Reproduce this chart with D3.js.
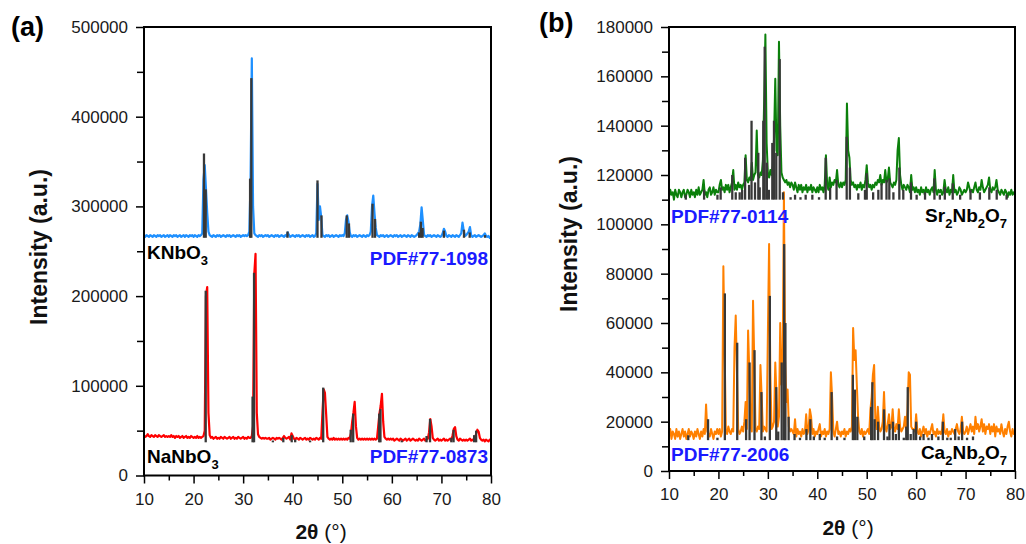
<!DOCTYPE html>
<html><head><meta charset="utf-8">
<script src="https://cdn.jsdelivr.net/npm/d3@7"></script>
<style>body{margin:0;background:#fff;}svg{display:block;}</style>
</head><body>
<svg id="c" width="1026" height="544"></svg>
<script>
// ---- measured scans: 2θ from scanStart in steps of scanStep, intensity in thousands of counts
const scanStart = 10, scanStep = 0.25;
const knbo3 = [
268,266,268,267,266,268,267,266,268,267,266,268,267,268,266,267,268,266,267,268,
266,268,267,266,268,267,268,266,267,268,266,267,268,266,268,267,266,268,267,268,
266,268,267,266,268,267,268,270,330,346,320,293,272,268,267,266,268,267,266,268,
267,268,266,267,268,267,266,268,267,268,266,267,268,267,266,268,267,268,266,267,
268,267,268,267,268,272,330,465,300,270,268,267,266,268,267,268,266,267,268,267,
268,266,267,268,267,266,268,267,268,266,267,268,267,266,268,267,271,268,266,267,
268,267,266,268,267,268,266,267,268,267,266,268,267,268,266,267,268,266,267,270,
325,285,300,288,268,267,266,268,267,268,266,267,268,266,267,268,267,266,268,267,
268,267,270,285,290,283,271,267,266,268,267,268,266,267,268,267,266,268,267,266,
268,267,268,272,300,312,292,276,268,267,266,268,267,268,266,267,268,266,267,268,
267,266,268,267,268,266,267,268,266,267,268,267,266,268,267,266,268,267,266,267,
268,270,272,280,299,284,268,267,266,268,267,268,266,267,268,267,266,268,267,266,
267,270,275,272,267,266,268,267,266,268,267,266,268,267,266,268,270,282,273,267,
268,270,272,277,268,266,267,268,266,267,268,267,266,267,268,270,267,266,267,265,
266];
const nanbo3 = [
45,43,44,46,44,43,45,44,43,45,44,43,45,44,43,44,45,43,44,43,
44,43,45,43,44,42,44,43,44,42,43,44,42,43,44,42,43,42,44,43,
42,43,42,44,42,43,42,43,44,50,200,210,70,45,42,43,41,42,43,41,
42,41,43,42,41,43,42,41,42,43,41,42,43,41,42,41,43,42,41,42,
43,41,42,41,43,42,42,44,55,225,247,70,46,43,42,41,42,41,42,41,
41,42,40,41,42,41,40,42,41,42,41,40,42,44,42,41,42,43,40,47,
44,41,40,42,41,40,42,41,40,41,42,40,41,40,42,41,40,41,40,42,
41,40,42,41,70,96,92,68,43,41,40,41,40,42,40,41,40,41,40,41,
40,41,40,41,40,42,41,47,60,70,82,55,42,40,41,40,41,40,41,40,
41,40,41,40,41,40,41,40,41,55,69,78,91,60,43,41,40,41,40,41,
40,41,39,40,41,40,39,41,40,39,40,41,39,40,41,39,40,41,40,39,
40,39,41,40,39,40,41,39,40,41,48,63,55,42,40,39,40,41,39,40,
39,40,41,39,40,39,40,41,39,45,52,54,44,40,39,41,40,39,40,39,
40,39,40,41,39,40,39,40,47,51,49,42,40,39,40,38,40,39,38,40,
39];
const sr2nb2o7 = [
111,114,112,113,110,114,112,111,114,113,111,113,114,111,112,114,113,111,114,112,
113,111,114,112,115,112,113,114,118,112,113,111,114,115,112,113,115,112,114,113,
113,116,118,114,115,113,116,114,116,113,115,117,122,114,116,114,117,115,116,114,
116,117,128,118,117,119,118,125,118,120,121,138,120,119,121,120,126,150,177,133,
121,119,122,120,124,135,159,130,128,174,140,121,119,118,117,118,116,117,115,117,
116,114,117,115,113,116,114,116,113,115,114,116,113,115,114,116,113,115,114,113,
115,113,116,114,115,113,116,128,116,114,119,115,117,116,118,117,122,116,115,117,
115,117,116,118,149,130,127,118,116,117,115,116,114,116,115,117,114,116,115,118,
124,117,115,116,114,116,115,117,116,118,117,120,116,118,117,122,117,118,123,117,
116,115,117,116,118,130,135,120,116,114,116,115,114,116,115,113,120,114,115,113,
115,113,114,112,115,113,114,112,115,113,114,112,114,115,113,122,114,112,114,113,
114,112,113,118,114,113,115,112,114,113,120,113,114,112,113,115,114,112,113,114,
113,114,117,115,113,114,113,115,117,114,113,115,114,118,115,113,114,115,116,119,
114,113,115,114,115,118,114,113,112,114,113,112,114,113,111,113,112,114,112,113,
112];
const ca2nb2o7 = [
14,17,13,16,15,13,17,14,16,13,15,17,14,16,13,15,17,14,16,15,
13,16,14,17,15,13,16,14,17,15,27,16,15,14,17,15,13,16,15,17,
15,17,14,16,83,50,17,15,18,16,15,17,16,50,63,40,17,15,16,18,
16,20,28,17,57,40,18,16,69,45,17,16,18,17,43,30,16,18,17,16,
55,92,40,17,18,20,44,30,18,22,60,35,45,113,45,28,33,18,16,17,
16,15,21,14,17,15,16,14,17,15,16,23,15,17,25,22,15,17,14,16,
15,17,19,14,16,15,17,14,16,15,17,40,30,16,14,17,20,15,16,14,
16,15,17,14,16,15,17,16,18,58,45,49,35,22,16,15,17,14,16,15,
16,17,15,25,30,39,43,20,17,26,18,16,17,20,32,18,16,19,23,17,
18,25,17,16,19,17,25,18,16,17,18,22,17,25,40,39,18,17,17,16,
23,16,15,17,14,16,18,15,17,14,16,15,17,19,15,16,14,17,15,16,
15,17,23,16,15,17,14,16,15,17,16,15,17,19,16,15,17,22,16,15,
16,18,15,17,19,16,18,15,22,17,19,16,18,21,16,19,15,18,17,19,
15,18,16,19,14,18,16,17,15,19,16,14,17,15,18,20,16,14,17,15,
16];

// ---- PDF reference sticks: [2θ, top intensity (k)], drawn up from a base intensity (k)
const knbo3RefBase = 265;
const knbo3Ref = [[22.1,359],[22.45,319],[31.4,331],[31.65,443],[38.95,272],[45.0,329],[45.8,290],[50.9,290],[51.35,281],[56.1,303],[56.6,286],[65.5,271],[65.85,283],[66.2,276],[70.5,273],[74.55,274],[75.7,271],[78.8,268]];
const nanbo3RefBase = 37;
const nanbo3Ref = [[22.45,206],[31.9,88],[32.2,226],[36.0,39],[38.1,42],[39.8,45],[40.5,40],[43.5,39],[46.15,98],[51.7,51],[52.2,69],[57.45,69],[57.7,74],[62.0,39],[67.0,44],[67.7,63],[72.0,42],[72.45,51],[76.6,45],[77.0,50]];
const sr2nb2o7RefBase = 110;
const sr2nb2o7Ref = [[13.4,112],[17.1,114],[19.8,112],[20.45,115],[22.8,120],[23.5,113],[24.3,113],[24.8,114],[25.4,127],[26.2,116],[26.7,142],[27.4,117],[28.07,129],[28.35,115],[29.08,142],[29.36,172],[29.8,125],[30.2,114],[30.9,133],[31.24,142],[31.7,129],[32.4,167],[33.06,113],[34.6,111],[35.5,112],[36.6,111],[37.65,112],[39.0,112],[40.35,111],[41.7,127],[42.6,115],[43.9,118],[45.95,135.5],[46.6,123],[48.3,112.6],[49.65,114],[50.0,120.7],[51.3,113],[52.35,114],[53.0,116.6],[54.0,118],[54.57,118.6],[55.4,113],[56.6,123],[57.4,114],[58.96,117],[60.1,112],[61.8,113],[63.7,118.6],[64.8,112],[65.8,115.2],[67.4,116.6],[68.9,112],[71.0,114],[72.9,113],[74.8,115],[76.3,114],[78.3,112]];
const ca2nb2o7RefBase = 12.5;
const ca2nb2o7Ref = [[13.9,14.5],[17.9,21],[19.8,13.5],[21.3,72],[23.8,52],[25.6,21],[26.3,44],[27.3,49],[28.7,32],[29.4,14],[30.4,71],[31.7,34],[32.1,16],[32.8,44],[33.3,92],[33.55,60],[34.2,22],[35.4,15],[36.5,13.5],[37.8,17],[38.6,21],[39.3,14],[40.5,15],[41.5,13.5],[42.9,32],[44.0,14],[45.5,13.5],[47.2,39],[47.6,33],[48.1,22],[49.5,14],[50.9,26],[51.15,36],[51.6,21],[52.3,20],[53.5,25],[54.2,14],[54.6,19],[55.3,20],[55.9,15],[56.5,19],[57.5,13.5],[58.0,18],[58.3,34],[58.9,15],[59.5,17],[60.0,20],[60.8,14],[61.5,15],[62.5,13.5],[63.2,15],[64.5,14],[65.4,20],[66.3,13.5],[67.0,13.5],[67.9,17],[68.6,14],[69.3,20],[70.3,13.5],[71.5,14]];

// ---- axis ticks
const xTicks = [10,20,30,40,50,60,70,80];
const xMinorTicks = [15,25,35,45,55,65,75];
const yTicksA = [0,100000,200000,300000,400000,500000];
const yMinorA = [50000,150000,250000,350000,450000];
const yTicksB = [0,20000,40000,60000,80000,100000,120000,140000,160000,180000];
const yMinorB = [10000,30000,50000,70000,90000,110000,130000,150000,170000];
const xDomain = [10,80];

const svg = d3.select("#c");
svg.append("rect").attr("width",1026).attr("height",544).attr("fill","#fff");
const FONT = "'Liberation Sans', Arial, sans-serif";

function drawPanel(o){
  const g = svg.append("g");
  const x = d3.scaleLinear().domain(xDomain).range([o.left,o.right]);
  const y = d3.scaleLinear().domain([0,o.yMax]).range([o.bottom,o.top]);
  const line = d3.line().x((d,i)=>x(scanStart+i*scanStep)).y(d=>y(d*1000));
  o.series.forEach(s=>{
    g.append("path").attr("d",line(s.values)).attr("fill","none")
      .attr("stroke",s.color).attr("stroke-width",s.width).attr("stroke-linejoin","round");
  });
  o.refs.forEach(r=>{
    g.append("g").selectAll("line").data(r.sticks).join("line")
      .attr("x1",d=>x(d[0])).attr("x2",d=>x(d[0]))
      .attr("y1",y(r.base*1000)).attr("y2",d=>y(d[1]*1000))
      .attr("stroke","#383838").attr("stroke-width",2.3);
  });
  const fmt = d3.format("d");
  const bx = g.append("g").attr("transform",`translate(0,${o.bottom})`)
    .call(d3.axisBottom(x).tickValues(xTicks).tickSize(8).tickPadding(9).tickFormat(fmt));
  const bxm = g.append("g").attr("transform",`translate(0,${o.bottom})`)
    .call(d3.axisBottom(x).tickValues(xMinorTicks).tickSize(5).tickFormat(""));
  const ly = g.append("g").attr("transform",`translate(${o.left},0)`)
    .call(d3.axisLeft(y).tickValues(o.yTicks).tickSize(8).tickPadding(8).tickFormat(fmt));
  const lym = g.append("g").attr("transform",`translate(${o.left},0)`)
    .call(d3.axisLeft(y).tickValues(o.yMinor).tickSize(7).tickFormat(""));
  [bxm,lym].forEach(a=>a.selectAll("text").remove());
  [bx,bxm,ly,lym].forEach(a=>{
    a.select(".domain").remove();
    a.selectAll(".tick line").attr("stroke","#000").attr("stroke-width",1.5);
    a.selectAll("text").attr("font-family",FONT).attr("font-size",17).attr("fill","#1a1a1a");
  });
  g.append("rect").attr("x",o.left).attr("y",o.top).attr("width",o.right-o.left).attr("height",o.bottom-o.top)
    .attr("fill","none").attr("stroke","#000").attr("stroke-width",2);
  g.append("text").attr("transform",`translate(${o.ytX},${o.ytY}) rotate(-90)`)
    .attr("text-anchor","middle").attr("font-family",FONT).attr("font-weight","bold")
    .attr("font-size",23).attr("fill","#111").text("Intensity (a.u.)");
  const xt = g.append("text").attr("x",o.xtX).attr("y",o.xtY).attr("text-anchor","middle")
    .attr("font-family",FONT).attr("font-size",21).attr("fill","#111");
  xt.append("tspan").attr("font-weight","bold").text("2θ");
  xt.append("tspan").text(" (°)");
  g.append("text").attr("x",o.tagX).attr("y",o.tagY).attr("font-family",FONT).attr("font-weight","bold")
    .attr("font-size",27).attr("fill","#000").text(o.tag);
  o.labels.forEach(l=>{
    const t = g.append("text").attr("x",l.x).attr("y",l.y).attr("text-anchor",l.anchor)
      .attr("font-family",FONT).attr("font-weight","bold").attr("font-size",19).attr("fill",l.color);
    let shifted = false;
    l.parts.forEach(p=>{
      const ts = t.append("tspan").text(p.t);
      if(p.sub){ ts.attr("font-size",13).attr("dy",6); shifted = true; }
      else if(shifted){ ts.attr("dy",-6); shifted = false; }
    });
  });
}

drawPanel({
  left:144,right:491,top:27,bottom:475.5,yMax:500000,yTicks:yTicksA,yMinor:yMinorA,
  series:[{values:knbo3,color:"#1e90ff",width:2.2},{values:nanbo3,color:"#ff0000",width:2.2}],
  refs:[{sticks:knbo3Ref,base:knbo3RefBase},{sticks:nanbo3Ref,base:nanbo3RefBase}],
  ytX:47,ytY:247,xtX:321,xtY:539,tag:"(a)",tagX:11,tagY:36,
  labels:[
    {x:147,y:259,anchor:"start",color:"#000",parts:[{t:"KNbO"},{t:"3",sub:true}]},
    {x:488,y:265,anchor:"end",color:"#1a1aff",parts:[{t:"PDF#77-1098"}]},
    {x:147,y:463,anchor:"start",color:"#000",parts:[{t:"NaNbO"},{t:"3",sub:true}]},
    {x:488,y:463,anchor:"end",color:"#1a1aff",parts:[{t:"PDF#77-0873"}]}
  ]
});
drawPanel({
  left:669,right:1015,top:27,bottom:471,yMax:180000,yTicks:yTicksB,yMinor:yMinorB,
  series:[{values:sr2nb2o7,color:"#0b800b",width:2},{values:ca2nb2o7,color:"#ff8000",width:2}],
  refs:[{sticks:sr2nb2o7Ref,base:sr2nb2o7RefBase},{sticks:ca2nb2o7Ref,base:ca2nb2o7RefBase}],
  ytX:577,ytY:234,xtX:848,xtY:535,tag:"(b)",tagX:539,tagY:32,
  labels:[
    {x:671,y:223,anchor:"start",color:"#1a1aff",parts:[{t:"PDF#77-0114"}]},
    {x:1007,y:222,anchor:"end",color:"#000",parts:[{t:"Sr"},{t:"2",sub:true},{t:"Nb"},{t:"2",sub:true},{t:"O"},{t:"7",sub:true}]},
    {x:671,y:461,anchor:"start",color:"#1a1aff",parts:[{t:"PDF#77-2006"}]},
    {x:1007,y:459,anchor:"end",color:"#000",parts:[{t:"Ca"},{t:"2",sub:true},{t:"Nb"},{t:"2",sub:true},{t:"O"},{t:"7",sub:true}]}
  ]
});
</script>
</body></html>
